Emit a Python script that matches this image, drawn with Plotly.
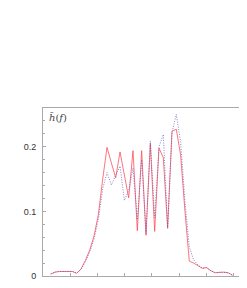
import plotly.graph_objects as go

# frequency index of each sample
idx = list(range(1, 44))

red_vals = [0.003, 0.006, 0.007, 0.007, 0.007, 0.007, 0.004, 0.011, 0.024, 0.040,
            0.062, 0.095, 0.150, 0.199, 0.175, 0.152, 0.192, 0.155, 0.121, 0.194,
            0.070, 0.194, 0.063, 0.205, 0.069, 0.198, 0.183, 0.074, 0.224, 0.227,
            0.187, 0.100, 0.023, 0.020, 0.016, 0.012, 0.013, 0.008, 0.005, 0.006,
            0.006, 0.005, 0.001]

blue_vals = [0.003, 0.006, 0.007, 0.007, 0.007, 0.007, 0.005, 0.010, 0.022, 0.037,
             0.057, 0.088, 0.135, 0.160, 0.141, 0.156, 0.170, 0.117, 0.132, 0.167,
             0.087, 0.180, 0.066, 0.209, 0.090, 0.200, 0.219, 0.074, 0.222, 0.250,
             0.207, 0.115, 0.045, 0.025, 0.017, 0.012, 0.013, 0.008, 0.005, 0.006,
             0.006, 0.005, 0.001]

y_tickvals = [0, 0.1, 0.2]
y_ticktext = ["0", "0.1", "0.2"]
label_text = "<i>h\u0303</i>(<i>f</i>)"

fig = go.Figure()
fig.add_trace(go.Scatter(x=idx, y=red_vals, mode="lines",
                         line=dict(color="rgba(255,70,80,0.75)", width=1),
                         showlegend=False, hoverinfo="skip"))
fig.add_trace(go.Scatter(x=idx, y=blue_vals, mode="lines",
                         line=dict(color="rgba(90,90,190,0.75)", width=1, dash="1px,1.5px"),
                         showlegend=False, hoverinfo="skip"))

fig.update_layout(
    width=247, height=288,
    margin=dict(l=35, r=0, t=100, b=20),
    paper_bgcolor="white", plot_bgcolor="white",
    font=dict(family="Liberation Sans, Arial, sans-serif", size=9, color="#333"),
    xaxis=dict(range=[-0.785, 48.17], showgrid=False, zeroline=False,
               showline=True, linecolor="#aaa", linewidth=1, mirror=True,
               ticks="inside", ticklen=3, tickcolor="#aaa",
               tick0=5.45, dtick=6.31, showticklabels=False),
    yaxis=dict(range=[0, 0.26], showgrid=False, zeroline=False,
               showline=True, linecolor="#aaa", linewidth=1,
               ticks="inside", ticklen=3, tickcolor="#aaa",
               tickvals=y_tickvals, ticktext=y_ticktext, ticklabelstandoff=4,
               minor=dict(tickvals=[0.02, 0.04, 0.06, 0.08, 0.12, 0.14, 0.16, 0.18, 0.22, 0.24],
                          ticks="inside", ticklen=2, tickcolor="#aaa")),
    annotations=[dict(text=label_text, xref="paper", yref="paper",
                      x=0.02, y=1, xanchor="left", yanchor="top", yshift=-2,
                      showarrow=False,
                      font=dict(family="DejaVu Serif, Liberation Serif, serif", size=10, color="#444"))],
)

fig.write_html("out.html")
